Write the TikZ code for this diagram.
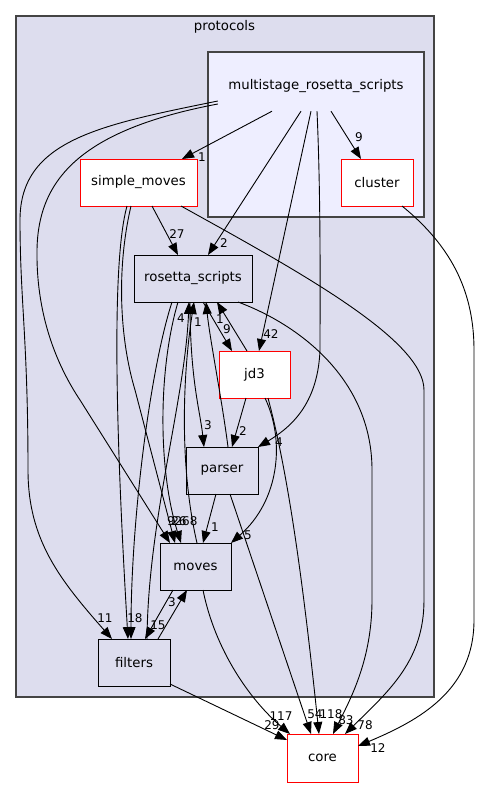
\documentclass[tikz,border=0pt]{standalone}
\usepackage{fontspec}
\setmainfont{DejaVu Sans}
\usetikzlibrary{arrows.meta,calc}
\definecolor{dirfill}{HTML}{DDDDEE}
\definecolor{msfill}{HTML}{EEEEFF}
\definecolor{clborder}{HTML}{444444}
\begin{document}
\begin{tikzpicture}[x=1pt,y=-1pt,
  nodefont/.style={font=\fontsize{13.3}{15}\selectfont},
  dirnode/.style={draw=black, fill=dirfill, line width=0.9pt, minimum width=72pt, minimum height=47pt, inner sep=0pt, outer sep=0pt, nodefont},
  rednode/.style={draw=red, fill=white, line width=0.9pt, minimum width=72pt, minimum height=47pt, inner sep=0pt, outer sep=0pt, nodefont},
  dep/.style={draw=black, line width=0.9pt, -{Triangle[length=12pt,width=9pt]}},
  lbl/.style={font=\fontsize{12}{13}\selectfont, inner sep=0pt},
  clusterbox/.style={draw=clborder, line width=1.3pt}]
\useasboundingbox (0,0) rectangle (480,788);
% clusters
\draw[clusterbox, fill=dirfill] (16,16) rectangle (434,697);
\node[nodefont, inner sep=0pt] (prl) at (224.5,27) {protocols};
\draw[clusterbox, fill=msfill] (208,52) rectangle (424,217);
\node[nodefont, inner sep=0pt, minimum width=196pt, minimum height=49pt] (msl) at (316,86.5) {multistage\_rosetta\_scripts};
% nodes
\node[rednode, minimum width=117pt] (sm) at (138.5,182.5) {simple\_moves};
\node[rednode] (cl) at (377,182.5) {cluster};
\node[dirnode, minimum width=118pt] (rs) at (193,278.5) {rosetta\_scripts};
\node[rednode, minimum width=71pt] (jd3) at (254.5,374.5) {jd3};
\node[dirnode] (pa) at (222,470.5) {parser};
\node[dirnode, minimum width=71pt] (mv) at (195.5,566.5) {moves};
\node[dirnode] (fi) at (134,662.5) {filters};
\node[rednode, minimum width=71pt, minimum height=48pt] (co) at (322.5,758) {core};
% edges from multistage_rosetta_scripts
\draw[dep] ([xshift=-44pt]msl.south) -- ([xshift=43.5pt]sm.north);
\draw[dep] ([xshift=15pt]msl.south) -- ([xshift=-16pt]cl.north);
\draw[dep] ([xshift=-15pt]msl.south) -- ([xshift=15pt]rs.north);
\draw[dep] ([xshift=-5pt]msl.south) -- ([xshift=4.5pt]jd3.north);
\draw[dep] ([xshift=1pt]msl.south) .. controls (321,200) and (320,300) .. (320,350) .. controls (318,400) and (295,425) .. (pa.north east);
\draw[dep] ([yshift=-14.5pt]msl.west) .. controls (100,125) and (20,140) .. (20,220) .. controls (20,300) and (28,340) .. (28,470) .. controls (28,540) and (60,580) .. ([xshift=-22pt]fi.north);
\draw[dep] ([yshift=-17.5pt]msl.west) .. controls (80,130) and (38,180) .. (37,250) .. controls (36,320) and (60,370) .. (80,400) -- ([xshift=-25.5pt]mv.north);
% edges from simple_moves
\draw[dep] ([xshift=13.5pt]sm.south) -- ([xshift=-15pt]rs.north);
\draw[dep] ([xshift=42.5pt]sm.south) .. controls (300,272) and (424,340) .. (424,390) -- (424,600) .. controls (424,660) and (390,690) .. ([xshift=22.5pt]co.north);
\draw[dep] ([xshift=-11.5pt]sm.south) .. controls (112,260) and (115,420) .. ([xshift=-6pt]fi.north);
\draw[dep] ([xshift=-7.5pt]sm.south) .. controls (116,270) and (120,340) .. (135,390) -- ([xshift=-20.5pt]mv.north);
% edges from cluster
\draw[dep] ([xshift=25pt]cl.south) .. controls (450,245) and (474,290) .. (474,350) -- (474,620) .. controls (474,690) and (420,720) .. ([yshift=12pt]co.east);
% edges from rosetta_scripts
\draw[dep] ([xshift=45pt]rs.south) .. controls (300,325) and (372,380) .. (372,470) -- (372,600) .. controls (372,660) and (350,700) .. ([xshift=10.5pt]co.north);
\draw[dep] ([xshift=10pt]rs.south) -- ([xshift=-22.5pt]jd3.north);
\draw[dep] ([xshift=-3pt]rs.south) .. controls (190,380) and (200,410) .. ([xshift=-18pt]pa.north);
\draw[dep] ([xshift=-15pt]rs.south) .. controls (158,370) and (158,470) .. ([xshift=-14.5pt]mv.north);
\draw[dep] ([xshift=-21pt]rs.south) .. controls (150,370) and (131,520) .. ([xshift=-3pt]fi.north);
% edges from jd3
\draw[dep] ([xshift=-7.5pt]jd3.north) -- ([xshift=24pt]rs.south);
\draw[dep] ([xshift=-8.5pt]jd3.south) -- ([xshift=10pt]pa.north);
\draw[dep] ([xshift=10.5pt]jd3.south) .. controls (285,440) and (280,500) .. (mv.north east);
\draw[dep] ([xshift=13.5pt]jd3.south) .. controls (290,480) and (305,600) .. ([xshift=-3.5pt]co.north);
% edges from parser
\draw[dep] ([xshift=8pt]pa.south) -- ([xshift=-11.5pt]co.north);
\draw[dep] ([xshift=-6pt]pa.south) -- ([xshift=7.5pt]mv.north);
\draw[dep] ([xshift=6pt]pa.north) .. controls (222,400) and (210,340) .. ([xshift=13pt]rs.south);
% edges from moves
\draw[dep] ([xshift=1.5pt]mv.north) .. controls (180,470) and (182,380) .. ([xshift=1pt]rs.south);
\draw[dep] ([xshift=-22.5pt]mv.south) -- ([xshift=11pt]fi.north);
\draw[dep] ([xshift=7.5pt]mv.south) .. controls (215,650) and (250,700) .. ([xshift=3pt]co.north west);
% edges from filters
\draw[dep] ([xshift=13pt]fi.north) .. controls (148,520) and (185,400) .. ([xshift=-4pt]rs.south);
\draw[dep] ([xshift=24pt]fi.north) -- ([xshift=-8.5pt]mv.south);
\draw[dep] ([yshift=-21.5pt]fi.east) -- ([yshift=18pt]co.west);
% edge labels
\node[lbl] (l1) at (202,157) {1};
\node[lbl] (l2) at (359,137) {9};
\node[lbl] (l3) at (224,243) {2};
\node[lbl] (l4) at (271,334) {42};
\node[lbl] (l5) at (279,442) {4};
\node[lbl] (l6) at (105,618) {11};
\node[lbl] (l7) at (171,521) {9};
\node[lbl] (l8) at (179,521) {26};
\node[lbl] (l9) at (186,521) {268};
\node[lbl] (l10) at (177,234) {27};
\node[lbl] (l11) at (346,720) {83};
\node[lbl] (l12) at (365,725) {78};
\node[lbl] (l13) at (378,748) {12};
\node[lbl] (l14) at (227,329) {9};
\node[lbl] (l15) at (220,319) {1};
\node[lbl] (l16) at (243,431) {2};
\node[lbl] (l17) at (248,535) {5};
\node[lbl] (l18) at (331,714) {118};
\node[lbl] (l19) at (315,714) {54};
\node[lbl] (l20) at (215,527) {1};
\node[lbl] (l21) at (198,322) {1};
\node[lbl] (l22) at (208,425) {3};
\node[lbl] (l23) at (181,318) {4};
\node[lbl] (l24) at (135,618) {18};
\node[lbl] (l25) at (158,625) {15};
\node[lbl] (l26) at (172,602) {3};
\node[lbl] (l27) at (281,716) {117};
\node[lbl] (l28) at (272,725) {29};
\end{tikzpicture}
\end{document}
